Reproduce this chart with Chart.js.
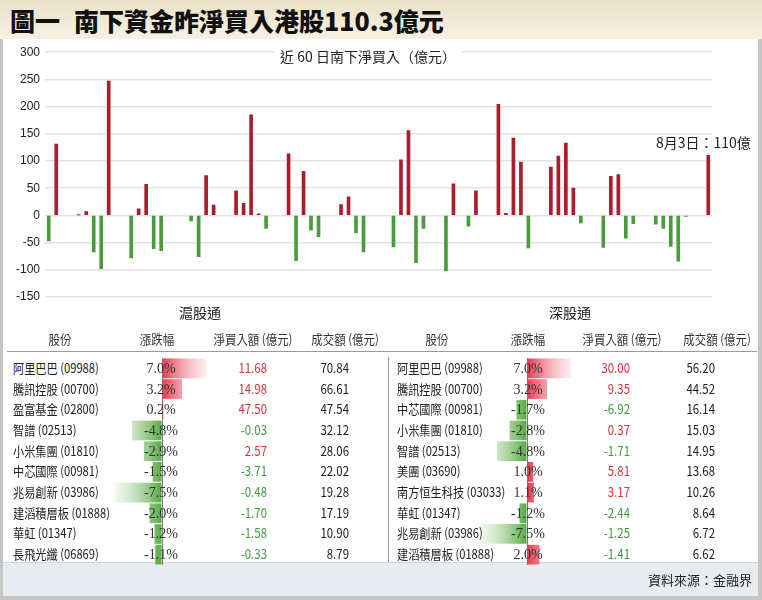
<!DOCTYPE html>
<html lang="zh-Hant">
<head>
<meta charset="utf-8">
<title>南下資金昨淨買入港股</title>
<script src="https://cdn.jsdelivr.net/npm/chart.js@4.4.1/dist/chart.umd.min.js"></script>
<style>
  html, body { margin: 0; padding: 0; }
  body {
    width: 762px; height: 600px; position: relative; overflow: hidden;
    background: #c6c6c6; color: #222;
    font-family: "Noto Sans CJK TC", "Liberation Sans", sans-serif;
  }
  .abs { position: absolute; white-space: nowrap; line-height: 1.2; color: #222; }
  #titlebar { left: 0; top: 0; width: 762px; height: 39px; background: linear-gradient(#ebe1c8, #f6f1e3); }
  #title { left: 10px; top: 20px; transform: translateY(-50%); font-size: 25px; font-weight: 900; color: #111; }
  #title span { margin-left: 14px; }
  #panel { left: 3px; top: 39px; width: 755px; height: 523px; background: #fff; }
  #sourcebar { left: 3px; top: 562px; width: 755px; height: 33px; background: #e8ebef; border-top: 1px solid #d2d6db; }
  #flowChart { position: absolute; left: 0; top: 40px; }
  #chartTitle { left: 368px; top: 56px; transform: translate(-50%, -50%); font-size: 14px; background: #fff; padding: 0 6px; }
  #lastNote { left: 656px; top: 142px; transform: translateY(-50%); font-size: 14px; }
  .rule { position: absolute; background: #9a9a9a; }
  canvas.chg { position: absolute; }
</style>
</head>
<body>
<div id="titlebar" class="abs"></div>
<div id="title" class="abs">圖一<span>南下資金昨淨買入港股110.3億元</span></div>
<div id="panel" class="abs"></div>
<div id="sourcebar" class="abs"></div>
<canvas id="flowChart" width="762" height="270"></canvas>
<div id="chartTitle" class="abs">近 60 日南下淨買入（億元）</div>
<div id="lastNote" class="abs">8月3日：110億</div>
<div class="rule" style="left:7px; top:351px; width:750px; height:1px;"></div>
<div class="rule" style="left:388px; top:357px; width:1px; height:205px;"></div>
<canvas id="hkChg" class="chg" width="100" height="207" style="left:112px; top:357.5px;"></canvas>
<canvas id="szChg" class="chg" width="100" height="207" style="left:477px; top:357.5px;"></canvas>

<script>
// 近60個交易日南下淨買入（億元）
const tradeDays = [
    '05-07', '05-08',
    '05-11', '05-12', '05-13', '05-14', '05-15',
    '05-18', '05-19', '05-20', '05-21', '05-22',
    '05-26', '05-27', '05-28', '05-29',
    '06-01', '06-02', '06-03', '06-04', '06-05',
    '06-08', '06-09', '06-10', '06-11', '06-12',
    '06-15', '06-16', '06-17', '06-18',
    '06-22', '06-23', '06-24', '06-25', '06-26',
    '06-29', '06-30', '07-02', '07-03',
    '07-06', '07-07', '07-08', '07-09', '07-10',
    '07-13', '07-14', '07-15', '07-16', '07-17',
    '07-20', '07-21', '07-22', '07-23', '07-24',
    '07-27', '07-28', '07-29', '07-30', '07-31',
    '08-03'
];
const netFlow = [
    -47, 131,
    1, 7, -67, -98, 247,
    -78, 12, 57, -61, -65,
    -10, -76, 73, 19,
    45, 22, 185, 3, -24,
    113, -83, 81, -27, -39,
    20, 34, -32, -67,
    -58, 102, 156, -87, -24,
    -102, 58, -20, 45,
    204, 4, 142, 98, -60,
    89, 109, 133, 50, -14,
    -59, 72, 75, -42, -15,
    -16, -24, -57, -84, -2,
    110.3
];
const yTickValues = [300, 250, 200, 150, 100, 50, 0, -50, -100, -150];

// 滬股通
const hkStocks = ['阿里巴巴 (09988)', '騰訊控股 (00700)', '盈富基金 (02800)', '智譜 (02513)', '小米集團 (01810)',
    '中芯國際 (00981)', '兆易創新 (03986)', '建滔積層板 (01888)', '華虹 (01347)', '長飛光纖 (06869)'];
const hkChange = [7.0, 3.2, 0.2, -4.8, -2.9, -1.5, -7.5, -2.0, -1.2, -1.1];
const hkNetBuy = [11.68, 14.98, 47.50, -0.03, 2.57, -3.71, -0.48, -1.70, -1.58, -0.33];
const hkTurnover = [70.84, 66.61, 47.54, 32.12, 28.06, 22.02, 19.28, 17.19, 10.90, 8.79];

// 深股通
const szStocks = ['阿里巴巴 (09988)', '騰訊控股 (00700)', '中芯國際 (00981)', '小米集團 (01810)', '智譜 (02513)',
    '美團 (03690)', '南方恒生科技 (03033)', '華虹 (01347)', '兆易創新 (03986)', '建滔積層板 (01888)'];
const szChange = [7.0, 3.2, -1.7, -2.8, -4.8, 1.0, 1.1, -1.2, -7.5, 2.0];
const szNetBuy = [30.00, 9.35, -6.92, 0.37, -1.71, 5.81, 3.17, -2.44, -1.25, -1.41];
const szTurnover = [56.20, 44.52, 16.14, 15.03, 14.95, 13.68, 10.26, 8.64, 6.72, 6.62];

const headers = ['股份', '漲跌幅', '淨買入額 (億元)', '成交額 (億元)'];

// calendar axis: every day from first to last trading day, holidays/weekends left empty
const calendar = [];
for (let d = new Date(Date.UTC(2026, 4, 7)); d <= new Date(Date.UTC(2026, 7, 3)); d.setUTCDate(d.getUTCDate() + 1)) {
    calendar.push(String(d.getUTCMonth() + 1).padStart(2, '0') + '-' + String(d.getUTCDate()).padStart(2, '0'));
}
const flowByDay = calendar.map(day => {
    const i = tradeDays.indexOf(day);
    return i < 0 ? null : netFlow[i];
});

new Chart(document.getElementById('flowChart'), {
    type: 'bar',
    data: {
        labels: calendar,
        datasets: [{
            data: flowByDay,
            backgroundColor: ctx => (ctx.raw >= 0 ? '#a81e2b' : '#4a9b3b'),
            barThickness: 3,
            borderWidth: 0
        }]
    },
    options: {
        responsive: false,
        animation: false,
        layout: { padding: { top: 12, bottom: 13, left: 0, right: 50 } },
        plugins: { legend: { display: false }, tooltip: { enabled: false } },
        scales: {
            x: { display: false },
            y: {
                min: -150,
                max: 300,
                afterBuildTicks: scale => { scale.ticks = yTickValues.map(v => ({ value: v })); },
                afterFit: scale => { scale.width = 45; },
                ticks: { padding: 5, color: '#222', font: { size: 12, family: 'Liberation Sans' } },
                grid: { color: '#e3e3e3', lineWidth: 1.5, drawTicks: false },
                border: { display: false }
            }
        }
    }
});

function fadeFill(ctx) {
    const chart = ctx.chart;
    const area = chart.chartArea;
    if (!area) return 'rgba(0,0,0,0)';
    const v = ctx.raw;
    const x0 = chart.scales.x.getPixelForValue(0);
    const g = chart.ctx.createLinearGradient(x0, 0, v >= 0 ? area.right : area.left, 0);
    if (v >= 0) {
        g.addColorStop(0, 'rgba(230,56,78,1)');
        g.addColorStop(1, 'rgba(248,196,202,0.15)');
    } else {
        g.addColorStop(0, 'rgba(86,168,66,1)');
        g.addColorStop(1, 'rgba(196,228,182,0.15)');
    }
    return g;
}

function changeBars(id, names, values) {
    new Chart(document.getElementById(id), {
        type: 'bar',
        data: {
            labels: names,
            datasets: [{ data: values, backgroundColor: fadeFill, barPercentage: 0.95, categoryPercentage: 1 }]
        },
        options: {
            indexAxis: 'y',
            responsive: false,
            animation: false,
            layout: { padding: 0 },
            plugins: { legend: { display: false }, tooltip: { enabled: false } },
            scales: {
                y: { display: false },
                x: {
                    min: -8,
                    max: 8,
                    ticks: { display: false, stepSize: 8 },
                    grid: {
                        drawTicks: false,
                        lineWidth: 1,
                        color: c => (c.tick && c.tick.value === 0 ? '#7a7a7a' : 'rgba(0,0,0,0)')
                    },
                    border: { display: false }
                }
            }
        }
    });
}
changeBars('hkChg', hkStocks, hkChange);
changeBars('szChg', szStocks, szChange);

function put(text, x, y, opts) {
    const el = document.createElement('div');
    el.className = 'abs';
    el.textContent = text;
    const a = opts.align || 'left';
    const tx = a === 'left' ? 0 : (a === 'center' ? -50 : -100);
    el.style.left = x + 'px';
    el.style.top = y + 'px';
    el.style.transformOrigin = a + ' center';
    el.style.transform = 'translate(' + tx + '%, -50%) scaleX(' + (opts.sx || 1) + ')';
    el.style.fontSize = (opts.size || 12) + 'px';
    if (opts.color) el.style.color = opts.color;
    if (opts.font) el.style.fontFamily = opts.font;
    document.body.appendChild(el);
}

const ROW0 = 357.5, ROW_H = 20.7;
const tables = [
    { label: '滬股通', labelX: 200, names: hkStocks, chg: hkChange, net: hkNetBuy, turn: hkTurnover,
      head: [60, 157, 253, 345], nameX: 13, chgX: 161, netX: 267, turnX: 349 },
    { label: '深股通', labelX: 570, names: szStocks, chg: szChange, net: szNetBuy, turn: szTurnover,
      head: [437, 528, 622, 717], nameX: 397, chgX: 528, netX: 630, turnX: 715 }
];

tables.forEach(t => {
    put(t.label, t.labelX, 312, { align: 'center', size: 14 });
    headers.forEach((h, i) => put(h, t.head[i], 339, { align: 'center', size: 13, sx: 0.88, color: '#333' }));
    t.names.forEach((name, i) => {
        const y = ROW0 + ROW_H * i + ROW_H / 2;
        put(name, t.nameX, y, { align: 'left', size: 13, sx: 0.86, color: '#222' });
        put(t.chg[i].toFixed(1) + '%', t.chgX, y + 1, { align: 'center', size: 14, color: '#333', font: '"Liberation Serif", serif' });
        put(t.net[i].toFixed(2), t.netX, y, { align: 'right', size: 13, sx: 0.88, color: t.net[i] >= 0 ? '#d3343c' : '#3f9b3f' });
        put(t.turn[i].toFixed(2), t.turnX, y, { align: 'right', size: 13, sx: 0.88, color: '#222' });
    });
});

put('資料來源：金融界', 752, 580, { align: 'right', size: 13 });
</script>
</body>
</html>
